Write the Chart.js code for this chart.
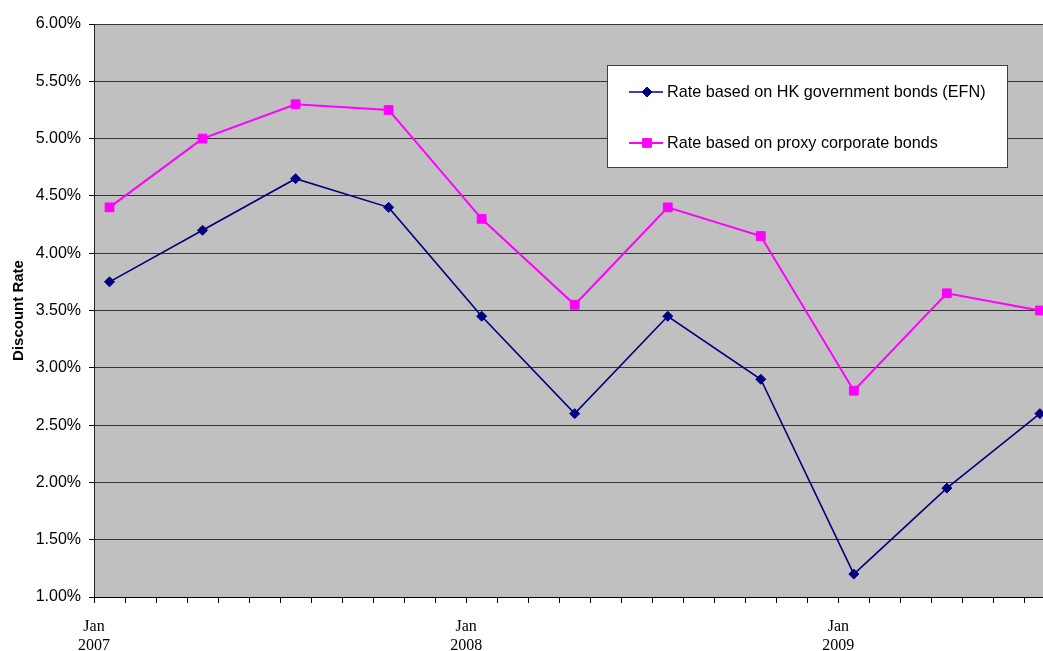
<!DOCTYPE html>
<html><head><meta charset="utf-8">
<script src="https://cdn.jsdelivr.net/npm/chart.js@4"></script>
<style>html,body{margin:0;padding:0;background:#fff;} canvas{display:block;}</style>
</head><body>
<canvas id="c" width="1043" height="651"></canvas>
<script>
// Quarterly observations (year-month)
const quarters = ['2007-01','2007-04','2007-07','2007-10','2008-01','2008-04','2008-07','2008-10','2009-01','2009-04','2009-07'];
// Discount rates, percent
const govRates  = [3.75, 4.20, 4.65, 4.40, 3.45, 2.60, 3.45, 2.90, 1.20, 1.95, 2.60];
const corpRates = [4.40, 5.00, 5.30, 5.25, 4.30, 3.55, 4.40, 4.15, 2.80, 3.65, 3.50];
const yearLabels = ['2007', '2008', '2009'];
const seriesNames = ['Rate based on HK government bonds (EFN)', 'Rate based on proxy corporate bonds'];

const startYear = 2007;
// months since Jan 2007, each point sits in the middle of its month
function monthIndex(s) {
  const [y, m] = s.split('-').map(Number);
  return (y - startYear) * 12 + (m - 1) + 0.5;
}
const toPoints = vals => quarters.map((q, i) => ({ x: monthIndex(q), y: vals[i] }));

const NAVY = '#000080', MAGENTA = '#FF00FF';

const plotBackground = {
  id: 'plotBackground',
  beforeDraw(chart) {
    const { ctx, chartArea: a } = chart;
    ctx.save();
    ctx.fillStyle = '#C0C0C0';
    ctx.fillRect(a.left, a.top, a.right - a.left, a.bottom - a.top);
    ctx.restore();
  }
};

const boxedLegend = {
  id: 'boxedLegend',
  afterDraw(chart) {
    const ctx = chart.ctx;
    const box = { x: 607.5, y: 65.5, w: 400, h: 102 };
    ctx.save();
    ctx.fillStyle = '#fff';
    ctx.fillRect(box.x, box.y, box.w, box.h);
    ctx.strokeStyle = '#404040';
    ctx.lineWidth = 1;
    ctx.strokeRect(box.x, box.y, box.w, box.h);
    const rows = [92, 143];
    chart.data.datasets.forEach((ds, i) => {
      const y = rows[i];
      ctx.strokeStyle = ds.borderColor;
      ctx.lineWidth = ds.borderWidth;
      ctx.beginPath();
      ctx.moveTo(629, y);
      ctx.lineTo(663, y);
      ctx.stroke();
      ctx.fillStyle = ds.pointBackgroundColor;
      ctx.strokeStyle = ds.pointBorderColor;
      ctx.lineWidth = 1;
      Chart.helpers.drawPoint(ctx, {
        pointStyle: ds.pointStyle, radius: ds.pointRadius, borderWidth: 1
      }, 647, y);
      ctx.fillStyle = '#000';
      ctx.font = '16.2px Arial, "Liberation Sans", sans-serif';
      ctx.textBaseline = 'middle';
      ctx.textAlign = 'left';
      ctx.fillText(ds.label, 667, y + 1);
    });
    ctx.restore();
  }
};

new Chart(document.getElementById('c'), {
  type: 'line',
  data: {
    datasets: [
      {
        label: seriesNames[0],
        data: toPoints(govRates),
        borderColor: NAVY, backgroundColor: NAVY,
        pointBackgroundColor: NAVY, pointBorderColor: NAVY,
        borderWidth: 1.6, pointStyle: 'rectRot', pointRadius: 5, pointBorderWidth: 1,
        tension: 0, clip: false
      },
      {
        label: seriesNames[1],
        data: toPoints(corpRates),
        borderColor: MAGENTA, backgroundColor: MAGENTA,
        pointBackgroundColor: MAGENTA, pointBorderColor: MAGENTA,
        borderWidth: 2, pointStyle: 'rect', pointRadius: 6.2, pointBorderWidth: 1,
        tension: 0, clip: false
      }
    ]
  },
  options: {
    responsive: false,
    animation: false,
    layout: { autoPadding: false, padding: { top: 24, right: 0, bottom: 0, left: 0 } },
    plugins: { legend: { display: false }, tooltip: { enabled: false } },
    scales: {
      x: {
        type: 'linear',
        min: 0, max: 30.6,
        afterBuildTicks(scale) {
          scale.ticks = Array.from({ length: 31 }, (_, i) => ({ value: i }));
        },
        afterFit(scale) { scale.height = 54; scale.paddingLeft = 0; scale.paddingRight = 0; },
        grid: { drawOnChartArea: false, drawTicks: true, tickLength: 6, color: '#000', tickColor: '#000' },
        border: { display: true, color: '#000', width: 1 },
        ticks: {
          autoSkip: false, maxRotation: 0, padding: 14, color: '#000',
          font: { family: '"Liberation Serif", "Times New Roman", serif', size: 16 },
          callback: v => (v % 12 === 0 && yearLabels[v / 12]) ? ['Jan', yearLabels[v / 12]] : ''
        }
      },
      y: {
        min: 1, max: 6,
        afterFit(scale) { scale.width = 94; scale.paddingTop = 0; scale.paddingBottom = 0; },
        grid: { color: '#333', lineWidth: 1, tickLength: 5, tickColor: '#000' },
        border: { display: true, color: '#222', width: 1 },
        ticks: {
          stepSize: 0.5, padding: 8, color: '#000',
          font: { family: 'Arial, "Liberation Sans", sans-serif', size: 16 },
          callback: v => v.toFixed(2) + '%'
        },
        title: {
          display: true, text: 'Discount Rate', color: '#000',
          font: { family: 'Arial, "Liberation Sans", sans-serif', size: 15, weight: 'bold' },
          padding: { top: 10, bottom: 0 }
        }
      }
    }
  },
  plugins: [plotBackground, boxedLegend]
});
</script>
</body></html>
